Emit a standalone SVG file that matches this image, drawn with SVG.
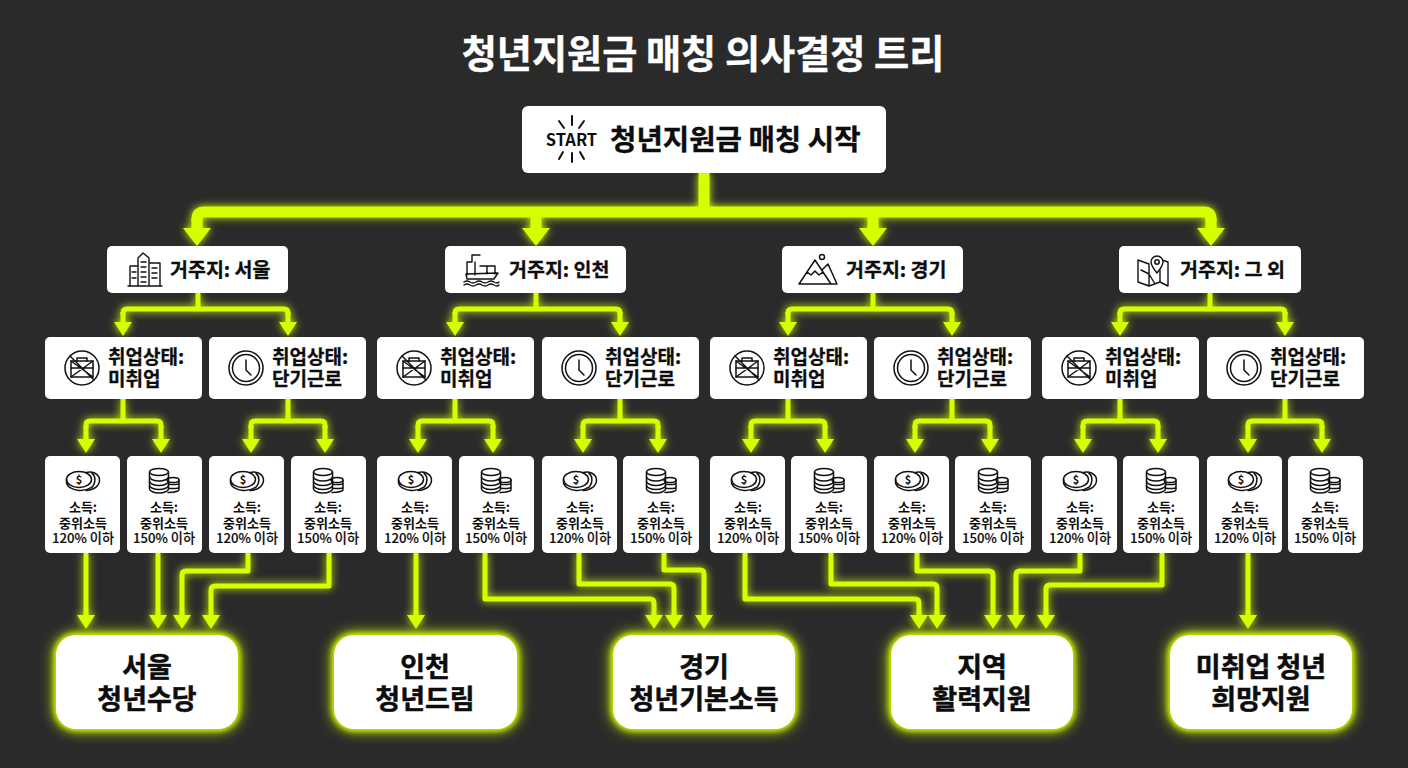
<svg xmlns="http://www.w3.org/2000/svg" width="1408" height="768" viewBox="0 0 1408 768">
<style>
text{font-family:"Noto Sans CJK KR","Noto Sans",sans-serif;font-weight:700;fill:#0d0d0d}
.title{font-size:38.200px;fill:#fff;text-anchor:middle;stroke:#fff;stroke-width:.4}
.n{fill:#fff}
.rt{font-size:28.700px;stroke:#0d0d0d;stroke-width:.4}
.t1{font-size:19.500px;stroke:#0d0d0d;stroke-width:.3}
.t2{font-size:19px;stroke:#0d0d0d;stroke-width:.3}
.t3{font-size:13px;text-anchor:middle}
.t3b{font-size:13.200px;font-weight:500;stroke:#0d0d0d;stroke-width:.15}
.t4{font-size:27px;text-anchor:middle;stroke:#0d0d0d;stroke-width:.5}
.i{fill:none;stroke:#111;stroke-width:1.500;stroke-linejoin:round;stroke-linecap:round}
.c{fill:none;stroke:#d4ff00;stroke-linejoin:round}
.big{stroke-width:11}
.bm{marker-end:url(#hb)}
.mid{stroke-width:5}
.ar{marker-end:url(#hm)}
.halo{fill:#c4ee00;filter:url(#nb)}
</style>
<defs>
<filter id="glow" filterUnits="userSpaceOnUse" x="0" y="0" width="1408" height="768">
<feGaussianBlur stdDeviation="4" result="b"/>
<feMerge><feMergeNode in="b"/><feMergeNode in="SourceGraphic"/></feMerge>
</filter>
<filter id="nb" x="-20%" y="-30%" width="140%" height="160%">
<feGaussianBlur in="SourceGraphic" stdDeviation="7" result="w"/>
<feGaussianBlur in="SourceGraphic" stdDeviation="2.500" result="t"/>
<feMerge><feMergeNode in="w"/><feMergeNode in="t"/></feMerge>
</filter>
<marker id="hb" markerUnits="userSpaceOnUse" markerWidth="18" markerHeight="28" refX="0" refY="14" orient="auto"><path d="M0 0L18 14L0 28Z" fill="#d4ff00"/></marker>
<marker id="hm" markerUnits="userSpaceOnUse" markerWidth="14" markerHeight="18" refX="0" refY="9" orient="auto"><path d="M0 0L14 9L0 18Z" fill="#d4ff00"/></marker>
<g id="coin" class="i">
<path d="M3-8.500C9-10.500 16.500-7 16.500-1C16.500 5 11 9 3 9.500"/>
<path d="M9-7.500C13-5 13 3 8 7"/>
<ellipse cx="-4" cy="-1.500" rx="12.500" ry="8" fill="#fff"/>
<path d="M-16.500-1.500V1C-16.500 6-10 9-4 9.500S5 8.500 8 6.500"/>
<text x="-4" y="2.500" text-anchor="middle" style="font-size:11px;stroke:none">$</text>
</g>
<g id="stack" class="i">
<ellipse cx="-5" cy="-9" rx="9.500" ry="3.500"/>
<path d="M-14.500-9V8C-14.500 10-10 12-5 12S4.500 10 4.500 8V-9"/>
<path d="M-14.500-4C-14.500-2-10 0-5 0S4.500-2 4.500-4M-14.500 0.500C-14.500 2.500-10 4.500-5 4.500S4.500 2.500 4.500 0.500M-14.500 4.500C-14.500 6.500-10 8.500-5 8.500S4.500 6.500 4.500 4.500"/>
<ellipse cx="9" cy="-1" rx="6" ry="2.500"/>
<path d="M15-1V8.500C15 10 11 11.500 4 11.500M4.500 3C9 4 15 3.500 15 2M4.500 7.200C9 8 15 7.500 15 6"/>
</g>
<g id="nojob" class="i">
<circle r="17"/>
<rect x="-11" y="-7" width="22" height="16"/>
<path d="M-5-7V-10H5V-7M-11-7L11 9M11-7L-11 9M-11 0H11M-12-12L12 12"/>
</g>
<g id="clock" class="i">
<circle r="17"/>
<circle r="13.500"/>
<path d="M0-8V2L5 7"/>
</g>
</defs>
<rect width="1408" height="768" fill="#2a2a2a"/>
<text class="title" x="703" y="68">청년지원금 매칭 의사결정 트리</text>

<g id="connectors" filter="url(#glow)">
<path class="c big" d="M704 173V212"/>
<path class="c big" d="M197 222V219Q197 212 204 212H1204Q1211 212 1211 219V222"/>
<path class="c big bm" d="M197 218V228"/>
<path class="c big bm" d="M536 212V228"/>
<path class="c big bm" d="M873 212V228"/>
<path class="c big bm" d="M1211 218V228"/>
<g class="c mid">
<path d="M198 293V309M536 293V309M873 293V309M1210 293V309"/>
<path d="M123 315V313Q123 309 127 309H284Q288 309 288 313V315"/>
<path d="M455 315V313Q455 309 459 309H616Q620 309 620 313V315"/>
<path d="M788 315V313Q788 309 792 309H948Q952 309 952 313V315"/>
<path d="M1120 315V313Q1120 309 1124 309H1281Q1285 309 1285 313V315"/>
<path class="ar" d="M123 312V322"/><path class="ar" d="M288 312V322"/>
<path class="ar" d="M455 312V322"/><path class="ar" d="M620 312V322"/>
<path class="ar" d="M788 312V322"/><path class="ar" d="M952 312V322"/>
<path class="ar" d="M1120 312V322"/><path class="ar" d="M1285 312V322"/>
<path d="M123 399V421M288 399V421M455 399V421M620 399V421M788 399V421M952 399V421M1120 399V421M1285 399V421"/>
<path d="M86 428V425Q86 421 90 421H157Q161 421 161 425V428"/>
<path d="M251 428V425Q251 421 255 421H321Q325 421 325 425V428"/>
<path d="M418 428V425Q418 421 422 421H489Q493 421 493 425V428"/>
<path d="M583 428V425Q583 421 587 421H654Q658 421 658 425V428"/>
<path d="M751 428V425Q751 421 755 421H821Q825 421 825 425V428"/>
<path d="M915 428V425Q915 421 919 421H986Q990 421 990 425V428"/>
<path d="M1083 428V425Q1083 421 1087 421H1154Q1158 421 1158 425V428"/>
<path d="M1248 428V425Q1248 421 1252 421H1318Q1322 421 1322 425V428"/>
<path class="ar" d="M86 426V439"/><path class="ar" d="M161 426V439"/>
<path class="ar" d="M251 426V439"/><path class="ar" d="M325 426V439"/>
<path class="ar" d="M418 426V439"/><path class="ar" d="M493 426V439"/>
<path class="ar" d="M583 426V439"/><path class="ar" d="M658 426V439"/>
<path class="ar" d="M751 426V439"/><path class="ar" d="M825 426V439"/>
<path class="ar" d="M915 426V439"/><path class="ar" d="M990 426V439"/>
<path class="ar" d="M1083 426V439"/><path class="ar" d="M1158 426V439"/>
<path class="ar" d="M1248 426V439"/><path class="ar" d="M1322 426V439"/>
<path class="ar" d="M86 553V615"/>
<path class="ar" d="M158 553V615"/>
<path class="ar" d="M248 553V571H186Q182 571 182 575V615"/>
<path class="ar" d="M329 553V586H215Q211 586 211 590V615"/>
<path class="ar" d="M416 553V615"/>
<path class="ar" d="M485 553V599H650Q654 599 654 603V615"/>
<path class="ar" d="M579 553V584H670Q674 584 674 588V615"/>
<path class="ar" d="M664 553V570H700Q704 570 704 574V615"/>
<path class="ar" d="M745 553V599H915Q919 599 919 603V615"/>
<path class="ar" d="M831 553V584H933Q937 584 937 588V615"/>
<path class="ar" d="M917 553V571H989Q993 571 993 575V615"/>
<path class="ar" d="M1080 553V571H1020Q1016 571 1016 575V615"/>
<path class="ar" d="M1162 553V585H1050Q1046 585 1046 589V615"/>
<path class="ar" d="M1248 553V615"/>
</g>
</g>

<g id="root">
<rect class="n" x="522" y="106" width="364" height="67" rx="6"/>
<path class="i" style="stroke-width:2" d="M572 116V125M572 153V162M559 121L564 128M584 121L579 128M559 159L563 152M584 159L580 152"/>
<text x="571.500" y="145.500" text-anchor="middle" style="font-size:16.500px">START</text>
<text class="rt" x="610" y="150">청년지원금 매칭 시작</text>
</g>

<g id="r1"><rect class="n" x="107" y="246" width="181" height="47" rx="5"/>
<path class="i" style="stroke-width:1.400" d="M128 286H162M130 286V266H138V286M138 286V258L143 253L149 258V286M149 263H160V286M141 262H146M141 267H146M141 272H146M141 277H146M141 282H146M152 268H157M152 273H157M152 278H157M132 272H136M132 278H136"/>
<text class="t1" x="170" y="277">거주지: 서울</text></g>
<g id="r2"><rect class="n" x="445" y="246" width="181" height="47" rx="5"/>
<path class="i" style="stroke-width:1.400" d="M467 275V262H472V255H480M475 262V275M480 266H495V274M487 266V274M466 274L467 279H494L498 273ZM464 282Q467 280 470 282T476 282T482 282T488 282T494 282T499 282M464 285Q467 283 470 285T476 285T482 285T488 285T494 285T499 285"/>
<text class="t1" x="509" y="277">거주지: 인천</text></g>
<g id="r3"><rect class="n" x="782" y="246" width="181" height="47" rx="5"/>
<path class="i" style="stroke-width:1.500" d="M799 284L815 260L831 284ZM822 270L828 264L837 284H831M807 272L811 275L815 271L819 275L823 272"/><circle class="i" cx="822" cy="257" r="2.500"/>
<text class="t1" x="846" y="277">거주지: 경기</text></g>
<g id="r4"><rect class="n" x="1119" y="246" width="182" height="47" rx="5"/>
<path class="i" style="stroke-width:1.400" d="M1149 264L1138 260V282L1149 286L1160 282L1168 286V262L1162 260M1149 264V286M1160 270V282M1141 270L1149 274L1155 284"/><path class="i" style="stroke-width:1.400;fill:#fff" d="M1157 273C1153 268 1151 265 1151 262A6 6 0 0 1 1163 262C1163 265 1161 268 1157 273Z"/><circle class="i" cx="1157" cy="262" r="2.200"/>
<text class="t1" x="1180" y="277">거주지: 그 외</text></g>

<g id="e1" transform="translate(45 337)"><rect class="n" width="157" height="62" rx="5"/><use href="#nojob" x="37" y="31"/><text class="t2"><tspan x="63" y="27">취업상태:</tspan><tspan x="63" y="49">미취업</tspan></text></g>
<g id="e2" transform="translate(209 337)"><rect class="n" width="157" height="62" rx="5"/><use href="#clock" x="37" y="31"/><text class="t2"><tspan x="63" y="27">취업상태:</tspan><tspan x="63" y="49">단기근로</tspan></text></g>
<g id="e3" transform="translate(377 337)"><rect class="n" width="157" height="62" rx="5"/><use href="#nojob" x="37" y="31"/><text class="t2"><tspan x="63" y="27">취업상태:</tspan><tspan x="63" y="49">미취업</tspan></text></g>
<g id="e4" transform="translate(542 337)"><rect class="n" width="157" height="62" rx="5"/><use href="#clock" x="37" y="31"/><text class="t2"><tspan x="63" y="27">취업상태:</tspan><tspan x="63" y="49">단기근로</tspan></text></g>
<g id="e5" transform="translate(710 337)"><rect class="n" width="157" height="62" rx="5"/><use href="#nojob" x="37" y="31"/><text class="t2"><tspan x="63" y="27">취업상태:</tspan><tspan x="63" y="49">미취업</tspan></text></g>
<g id="e6" transform="translate(874 337)"><rect class="n" width="157" height="62" rx="5"/><use href="#clock" x="37" y="31"/><text class="t2"><tspan x="63" y="27">취업상태:</tspan><tspan x="63" y="49">단기근로</tspan></text></g>
<g id="e7" transform="translate(1042 337)"><rect class="n" width="157" height="62" rx="5"/><use href="#nojob" x="37" y="31"/><text class="t2"><tspan x="63" y="27">취업상태:</tspan><tspan x="63" y="49">미취업</tspan></text></g>
<g id="e8" transform="translate(1207 337)"><rect class="n" width="157" height="62" rx="5"/><use href="#clock" x="37" y="31"/><text class="t2"><tspan x="63" y="27">취업상태:</tspan><tspan x="63" y="49">단기근로</tspan></text></g>

<g id="i1" transform="translate(45 456)"><rect class="n" width="75" height="97" rx="5"/><use href="#coin" x="38" y="25"/><text class="t3"><tspan x="38" y="56">소득:</tspan><tspan x="38" y="72">중위소득</tspan><tspan class="t3b" x="38" y="87">120% 이하</tspan></text></g>
<g id="i2" transform="translate(127 456)"><rect class="n" width="75" height="97" rx="5"/><use href="#stack" x="37" y="25"/><text class="t3"><tspan x="37" y="56">소득:</tspan><tspan x="37" y="72">중위소득</tspan><tspan class="t3b" x="37" y="87">150% 이하</tspan></text></g>
<g id="i3" transform="translate(209 456)"><rect class="n" width="75" height="97" rx="5"/><use href="#coin" x="38" y="25"/><text class="t3"><tspan x="38" y="56">소득:</tspan><tspan x="38" y="72">중위소득</tspan><tspan class="t3b" x="38" y="87">120% 이하</tspan></text></g>
<g id="i4" transform="translate(291 456)"><rect class="n" width="75" height="97" rx="5"/><use href="#stack" x="37" y="25"/><text class="t3"><tspan x="37" y="56">소득:</tspan><tspan x="37" y="72">중위소득</tspan><tspan class="t3b" x="37" y="87">150% 이하</tspan></text></g>
<g id="i5" transform="translate(377 456)"><rect class="n" width="75" height="97" rx="5"/><use href="#coin" x="38" y="25"/><text class="t3"><tspan x="38" y="56">소득:</tspan><tspan x="38" y="72">중위소득</tspan><tspan class="t3b" x="38" y="87">120% 이하</tspan></text></g>
<g id="i6" transform="translate(459 456)"><rect class="n" width="75" height="97" rx="5"/><use href="#stack" x="37" y="25"/><text class="t3"><tspan x="37" y="56">소득:</tspan><tspan x="37" y="72">중위소득</tspan><tspan class="t3b" x="37" y="87">150% 이하</tspan></text></g>
<g id="i7" transform="translate(542 456)"><rect class="n" width="75" height="97" rx="5"/><use href="#coin" x="38" y="25"/><text class="t3"><tspan x="38" y="56">소득:</tspan><tspan x="38" y="72">중위소득</tspan><tspan class="t3b" x="38" y="87">120% 이하</tspan></text></g>
<g id="i8" transform="translate(623 456)"><rect class="n" width="76" height="97" rx="5"/><use href="#stack" x="38" y="25"/><text class="t3"><tspan x="38" y="56">소득:</tspan><tspan x="38" y="72">중위소득</tspan><tspan class="t3b" x="38" y="87">150% 이하</tspan></text></g>
<g id="i9" transform="translate(710 456)"><rect class="n" width="75" height="97" rx="5"/><use href="#coin" x="38" y="25"/><text class="t3"><tspan x="38" y="56">소득:</tspan><tspan x="38" y="72">중위소득</tspan><tspan class="t3b" x="38" y="87">120% 이하</tspan></text></g>
<g id="i10" transform="translate(791 456)"><rect class="n" width="76" height="97" rx="5"/><use href="#stack" x="38" y="25"/><text class="t3"><tspan x="38" y="56">소득:</tspan><tspan x="38" y="72">중위소득</tspan><tspan class="t3b" x="38" y="87">150% 이하</tspan></text></g>
<g id="i11" transform="translate(874 456)"><rect class="n" width="75" height="97" rx="5"/><use href="#coin" x="38" y="25"/><text class="t3"><tspan x="38" y="56">소득:</tspan><tspan x="38" y="72">중위소득</tspan><tspan class="t3b" x="38" y="87">120% 이하</tspan></text></g>
<g id="i12" transform="translate(955 456)"><rect class="n" width="76" height="97" rx="5"/><use href="#stack" x="38" y="25"/><text class="t3"><tspan x="38" y="56">소득:</tspan><tspan x="38" y="72">중위소득</tspan><tspan class="t3b" x="38" y="87">150% 이하</tspan></text></g>
<g id="i13" transform="translate(1042 456)"><rect class="n" width="75" height="97" rx="5"/><use href="#coin" x="38" y="25"/><text class="t3"><tspan x="38" y="56">소득:</tspan><tspan x="38" y="72">중위소득</tspan><tspan class="t3b" x="38" y="87">120% 이하</tspan></text></g>
<g id="i14" transform="translate(1123 456)"><rect class="n" width="76" height="97" rx="5"/><use href="#stack" x="38" y="25"/><text class="t3"><tspan x="38" y="56">소득:</tspan><tspan x="38" y="72">중위소득</tspan><tspan class="t3b" x="38" y="87">150% 이하</tspan></text></g>
<g id="i15" transform="translate(1207 456)"><rect class="n" width="75" height="97" rx="5"/><use href="#coin" x="38" y="25"/><text class="t3"><tspan x="38" y="56">소득:</tspan><tspan x="38" y="72">중위소득</tspan><tspan class="t3b" x="38" y="87">120% 이하</tspan></text></g>
<g id="i16" transform="translate(1288 456)"><rect class="n" width="75" height="97" rx="5"/><use href="#stack" x="37" y="25"/><text class="t3"><tspan x="37" y="56">소득:</tspan><tspan x="37" y="72">중위소득</tspan><tspan class="t3b" x="37" y="87">150% 이하</tspan></text></g>

<g id="p1"><rect class="halo" x="54" y="633" width="186" height="98" rx="22"/><rect class="n" x="56" y="635" width="182" height="94" rx="20"/><text class="t4"><tspan x="147" y="677">서울</tspan><tspan x="147" y="709">청년수당</tspan></text></g>
<g id="p2"><rect class="halo" x="332" y="633" width="187" height="98" rx="22"/><rect class="n" x="334" y="635" width="183" height="94" rx="20"/><text class="t4"><tspan x="425" y="677">인천</tspan><tspan x="425" y="709">청년드림</tspan></text></g>
<g id="p3"><rect class="halo" x="611" y="633" width="186" height="98" rx="22"/><rect class="n" x="613" y="635" width="182" height="94" rx="20"/><text class="t4"><tspan x="704" y="677">경기</tspan><tspan x="704" y="709">청년기본소득</tspan></text></g>
<g id="p4"><rect class="halo" x="889" y="633" width="186" height="98" rx="22"/><rect class="n" x="891" y="635" width="182" height="94" rx="20"/><text class="t4"><tspan x="982" y="677">지역</tspan><tspan x="982" y="709">활력지원</tspan></text></g>
<g id="p5"><rect class="halo" x="1168" y="633" width="186" height="98" rx="22"/><rect class="n" x="1170" y="635" width="182" height="94" rx="20"/><text class="t4"><tspan x="1261" y="677">미취업 청년</tspan><tspan x="1261" y="709">희망지원</tspan></text></g>
</svg>
